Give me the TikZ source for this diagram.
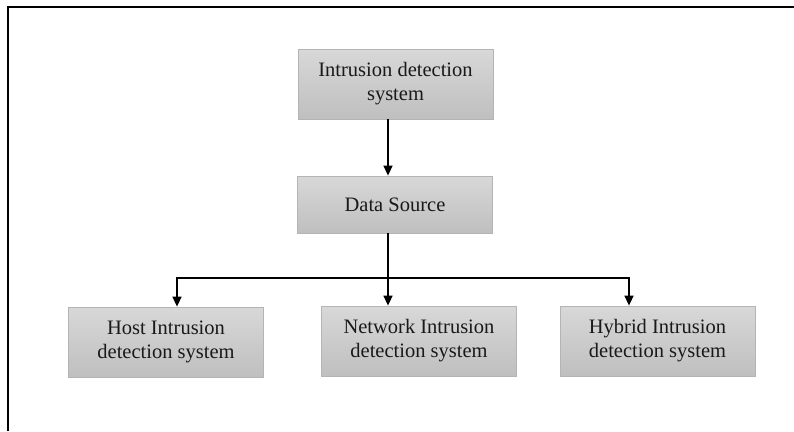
\documentclass[tikz,border=0pt]{standalone}
\usepackage{fontspec}
\setmainfont{Liberation Serif}
\usetikzlibrary{arrows.meta}
\definecolor{boxtop}{HTML}{D8D8D8}
\definecolor{boxbot}{HTML}{BFBFBF}
\definecolor{boxedge}{HTML}{B4B4B4}
\begin{document}
\begin{tikzpicture}[x=1pt,y=-1pt,
  idsbox/.style={rectangle, draw=boxedge, line width=0.8pt,
    top color=boxtop, bottom color=boxbot,
    minimum width=195pt, minimum height=70pt, inner sep=0pt,
    align=center, font=\fontsize{20.5}{24}\selectfont, text=black!90},
  link/.style={line width=1.5pt, black},
  arr/.style={link, -{Triangle[length=10pt,width=9pt]}}]
  \useasboundingbox (0,0) rectangle (794,431);
  % frame along the left and top edges
  \draw[line width=2.5pt] (8,431) -- (8,7) -- (794,7);
  % boxes
  \node[idsbox] (ids) at (395.5,84) {Intrusion detection\\system};
  \node[idsbox, minimum height=57pt] (src) at (395,204.5) {Data Source};
  \node[idsbox] (host) at (166,342) {Host Intrusion\\detection system};
  \node[idsbox] (net) at (419,341) {Network Intrusion\\detection system};
  \node[idsbox] (hyb) at (657.5,341) {Hybrid Intrusion\\detection system};
  % branching points
  \coordinate (spine) at (388,278);
  \coordinate (busL) at (177,278);
  \coordinate (busR) at (629,278);
  % connectors
  \draw[arr] (spine |- ids.south) -- (spine |- src.north);
  \draw[link] (spine |- src.south) -- (spine);
  \draw[link, line cap=rect] (busL) -- (busR);
  \draw[arr] (busL) -- (busL |- host.north);
  \draw[arr] (spine) -- (spine |- net.north);
  \draw[arr] (busR) -- (busR |- hyb.north);
\end{tikzpicture}
\end{document}
